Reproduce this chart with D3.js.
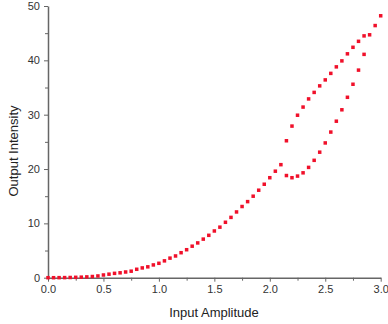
<!DOCTYPE html>
<html>
<head>
<meta charset="utf-8">
<script src="https://cdn.jsdelivr.net/npm/d3@7"></script>
<style>
  body { margin: 0; background: #fff; }
  svg { display: block; font-family: "Liberation Sans", Arial, sans-serif; }
  .axis path, .axis line { stroke: #666; }
  .axis text { fill: #333; font-size: 11px; }
</style>
</head>
<body>
<svg width="388" height="324"></svg>
<script>
// rising branch, 0.00 -> 2.10 (step 0.05) then upper branch 2.15 -> 3.00
var risingX = [0, 0.05, 0.1, 0.15, 0.2, 0.25, 0.3, 0.35, 0.4, 0.45,
  0.5, 0.55, 0.6, 0.65, 0.7, 0.75, 0.8, 0.85, 0.9, 0.95,
  1.0, 1.05, 1.1, 1.15, 1.2, 1.25, 1.3, 1.35, 1.4, 1.45,
  1.5, 1.55, 1.6, 1.65, 1.7, 1.75, 1.8, 1.85, 1.9, 1.95,
  2.0, 2.05, 2.1,
  2.15, 2.2, 2.25, 2.3, 2.35, 2.4, 2.45, 2.5, 2.55, 2.6,
  2.65, 2.7, 2.75, 2.8, 2.85, 2.9, 2.95, 3.0];
var risingY = [0, 0, 0.01, 0.02, 0.04, 0.07, 0.1, 0.15, 0.22, 0.32,
  0.5, 0.65, 0.8, 0.9, 1.05, 1.2, 1.55, 1.8, 2.0, 2.35,
  2.65, 3.1, 3.6, 4.0, 4.6, 5.15, 5.8, 6.4, 7.1, 7.8,
  8.6, 9.3, 10.2, 11.1, 12.1, 13.1, 14.0, 15.0, 16.1, 17.2,
  18.4, 19.6, 20.8,
  25.2, 27.9, 29.9, 31.4, 32.9, 34.1, 35.3, 36.4, 37.6, 38.8,
  39.9, 41.2, 42.4, 43.5, 44.5, 44.7, 46.4, 48.2];

// returning lower branch, 2.85 -> 2.15
var fallingX = [2.85, 2.8, 2.75, 2.7, 2.65, 2.6, 2.55, 2.5, 2.45, 2.4, 2.35, 2.3, 2.25, 2.2, 2.15];
var fallingY = [41.1, 38.2, 35.6, 33.2, 30.9, 28.8, 26.8, 24.8, 23.1, 21.6, 20.3, 19.3, 18.7, 18.4, 18.8];

var xTicks = [0, 0.5, 1.0, 1.5, 2.0, 2.5, 3.0];
var yTicks = [0, 10, 20, 30, 40, 50];

var svg = d3.select("svg");
var x = d3.scaleLinear().domain([0, 3]).range([48, 380.7]);
var y = d3.scaleLinear().domain([0, 50]).range([277.7, 6]);

// minor ticks
svg.append("g")
  .attr("class", "axis")
  .attr("transform", "translate(0," + y(0) + ")")
  .call(d3.axisBottom(x).tickValues(d3.range(0.25, 3, 0.5)).tickSize(3).tickFormat(""))
  .select(".domain").remove();
svg.append("g")
  .attr("class", "axis")
  .attr("transform", "translate(" + x(0) + ",0)")
  .call(d3.axisLeft(y).tickValues(d3.range(5, 50, 10)).tickSize(3).tickFormat(""))
  .select(".domain").remove();

// major axes
svg.append("g")
  .attr("class", "axis")
  .attr("transform", "translate(0," + y(0) + ")")
  .call(d3.axisBottom(x).tickValues(xTicks).tickSize(4).tickSizeOuter(0).tickPadding(4)
    .tickFormat(d3.format(".1f")));
svg.append("g")
  .attr("class", "axis")
  .attr("transform", "translate(" + x(0) + ",0)")
  .call(d3.axisLeft(y).tickValues(yTicks).tickSize(4).tickSizeOuter(0).tickPadding(4));

svg.selectAll(".axis path").attr("stroke-width", 1.5);

var pts = risingX.map(function (d, i) { return [d, risingY[i]]; })
  .concat(fallingX.map(function (d, i) { return [d, fallingY[i]]; }));

var s = 3.5;
svg.append("g").selectAll("rect")
  .data(pts)
  .enter().append("rect")
  .attr("x", function (d) { return x(d[0]) - s / 2; })
  .attr("y", function (d) { return y(d[1]) - s / 2; })
  .attr("width", s)
  .attr("height", s)
  .attr("fill", "#f0102a");

svg.append("text")
  .attr("x", 214)
  .attr("y", 317)
  .attr("text-anchor", "middle")
  .attr("font-size", "13px")
  .attr("fill", "#222")
  .text("Input Amplitude");

svg.append("text")
  .attr("transform", "translate(18,151) rotate(-90)")
  .attr("text-anchor", "middle")
  .attr("font-size", "13px")
  .attr("fill", "#222")
  .text("Output Intensity");
</script>
</body>
</html>
